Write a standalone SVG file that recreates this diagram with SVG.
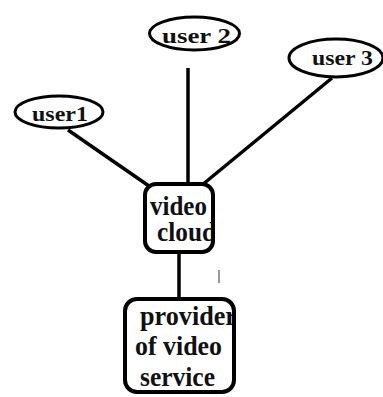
<svg xmlns="http://www.w3.org/2000/svg" width="383" height="397" viewBox="0 0 383 397">
<style>
.node { fill: #fff; stroke: #000; }
.ell { stroke-width: 3; }
.box { stroke-width: 4; }
.lbl { font-family: "Liberation Serif", "Times New Roman", serif; font-weight: bold; fill: #111; }
.u { font-size: 22px; }
.b { font-size: 27px; }
.con { stroke: #000; stroke-width: 3.5; fill: none; }
</style>
<defs>
<clipPath id="clipVideo"><rect x="145" y="184" width="67" height="68"/></clipPath>
<clipPath id="clipProv"><rect x="125" y="299" width="107" height="93"/></clipPath>
</defs>
<rect width="383" height="397" fill="#fff"/>
<g id="connectors">
<line class="con" x1="68" y1="130" x2="149" y2="186"/>
<line class="con" x1="188" y1="68" x2="188" y2="184"/>
<line class="con" x1="332" y1="78" x2="202" y2="185"/>
<line class="con" x1="179" y1="252" x2="179" y2="299"/>
</g>
<g id="user1">
<ellipse class="node ell" cx="59" cy="112" rx="44" ry="16"/>
<text class="lbl u" x="32" y="121" textLength="56" lengthAdjust="spacingAndGlyphs">user1</text>
</g>
<g id="user2">
<ellipse class="node ell" cx="194.5" cy="33.5" rx="45" ry="16.5"/>
<text class="lbl u" x="162" y="42.5" textLength="69" lengthAdjust="spacingAndGlyphs">user 2</text>
</g>
<g id="user3">
<ellipse class="node ell" cx="336" cy="58" rx="47" ry="19"/>
<text class="lbl u" x="312" y="64.5" textLength="61" lengthAdjust="spacingAndGlyphs">user 3</text>
</g>
<g id="video-cloud">
<rect class="node box" x="145" y="184" width="68" height="68" rx="11"/>
<g clip-path="url(#clipVideo)">
<text class="lbl b" x="150" y="215" textLength="57" lengthAdjust="spacingAndGlyphs">video</text>
<text class="lbl b" x="157" y="241" textLength="59" lengthAdjust="spacingAndGlyphs">cloud</text>
</g>
</g>
<g id="provider">
<rect class="node box" x="125" y="299" width="109" height="93" rx="12"/>
<g clip-path="url(#clipProv)">
<text class="lbl b" x="140" y="325" textLength="97" lengthAdjust="spacingAndGlyphs">provider</text>
<text class="lbl b" x="135" y="355" textLength="87" lengthAdjust="spacingAndGlyphs">of video</text>
<text class="lbl b" x="140" y="386" textLength="75" lengthAdjust="spacingAndGlyphs">service</text>
</g>
</g>
<line x1="219" y1="270" x2="219" y2="283" stroke="#333" stroke-width="1"/>
</svg>
